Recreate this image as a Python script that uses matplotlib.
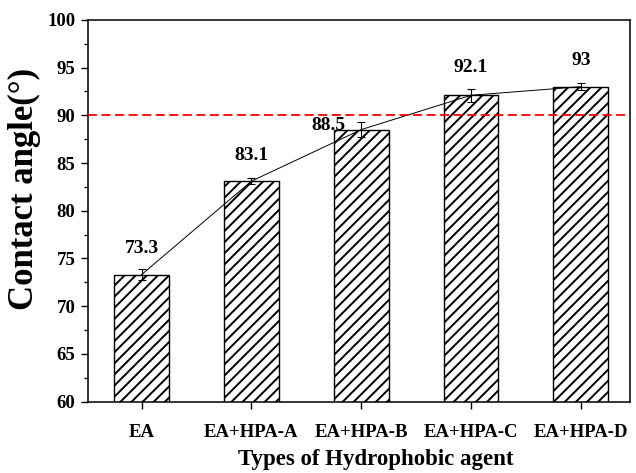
import matplotlib
matplotlib.use("Agg")
import matplotlib.pyplot as plt
import numpy as np

plt.rcParams['font.family'] = ['Liberation Serif', 'DejaVu Serif']
plt.rcParams['font.weight'] = 'bold'
plt.rcParams['hatch.linewidth'] = 1.4

# contact angle per hydrophobic agent
agents = ['EA', 'EA+HPA-A', 'EA+HPA-B', 'EA+HPA-C', 'EA+HPA-D']
angles = [73.3, 83.1, 88.5, 92.1, 93.0]
errors = [0.6, 0.3, 0.8, 0.7, 0.4]
threshold = 90

# label offsets (x, y) in data units, B label sits to the left
label_dx = [0, 0, -0.3, 0, 0]
label_dy = [2.7, 2.7, 0.4, 2.9, 2.7]

fig = plt.figure(figsize=(6.36, 4.73), dpi=100)
ax = fig.add_axes([0.138, 0.151, 0.853, 0.807])

x = np.arange(len(agents))
ax.bar(x, angles, width=0.5, color='white', edgecolor='black',
       linewidth=1.0, hatch='///', zorder=2)
ax.errorbar(x, angles, yerr=errors, fmt='none', ecolor='black',
            elinewidth=0.8, capsize=3.2, capthick=0.8, zorder=3)
ax.plot(x, angles, color='black', linewidth=0.7, zorder=4)
ax.axhline(threshold, color='red', linestyle=(0, (5, 2.5)), linewidth=1.3, zorder=5)

for i, v in enumerate(angles):
    txt = f'{v:g}'
    ax.text(x[i] + label_dx[i], v + label_dy[i], txt, ha='center', va='center',
            fontsize=14, fontweight='bold')

ax.set_xlim(-0.49, 4.45)
ax.set_ylim(60, 100)
ax.set_xticks(x)
ax.set_xticklabels(agents)
ax.set_yticks(np.arange(60, 101, 5))
ax.set_yticks(np.arange(62.5, 100, 5), minor=True)

ax.tick_params(axis='both', direction='out', labelsize=13.5, width=1.0)
ax.tick_params(axis='y', which='major', length=5, pad=4)
ax.tick_params(axis='y', which='minor', length=3, width=1.0)
ax.tick_params(axis='x', length=5, pad=11)
for sp in ax.spines.values():
    sp.set_linewidth(1.1)

ax.set_xlabel('Types of Hydrophobic agent', fontsize=16.5, fontweight='bold')
ax.set_ylabel('Contact angle(°)', fontsize=25, fontweight='bold')
ax.xaxis.set_label_coords(0.531, -0.125)
ax.yaxis.set_label_coords(-0.086, 0.557)

fig.savefig('out.png', dpi=100)
